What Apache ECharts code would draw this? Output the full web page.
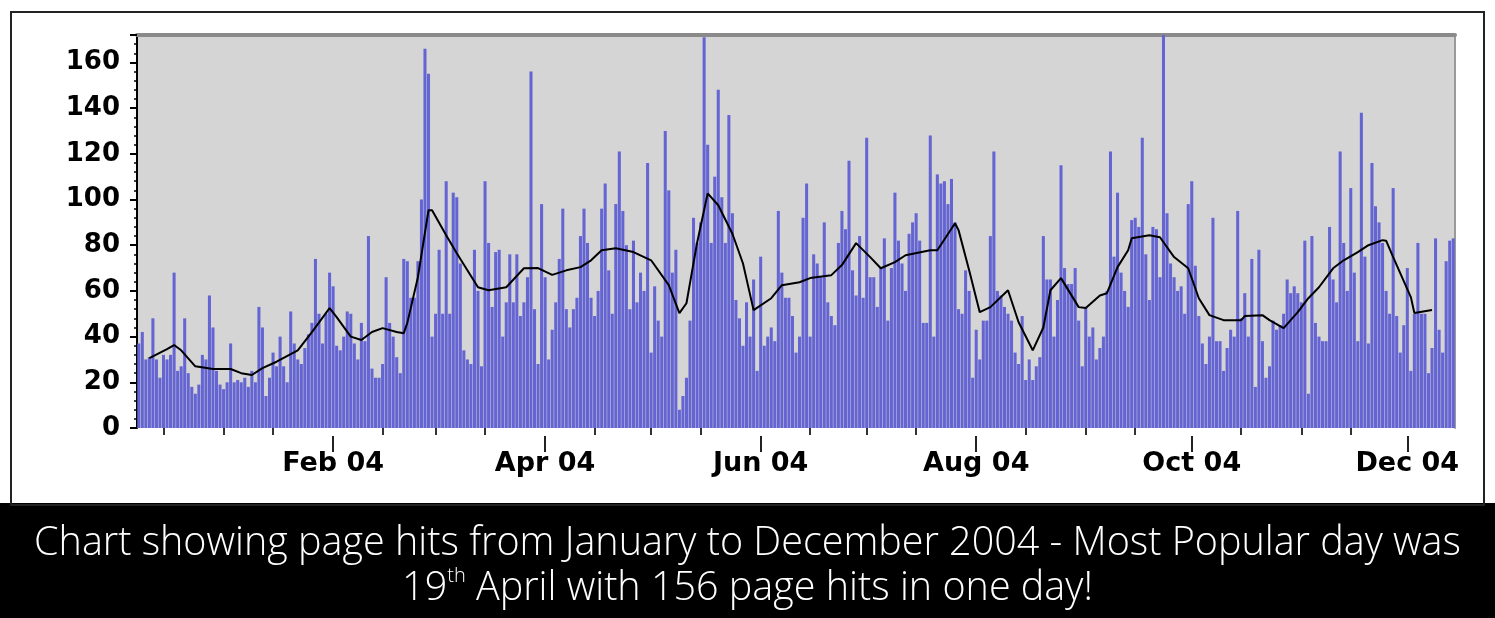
<!DOCTYPE html>
<html>
<head>
<meta charset="utf-8">
<script src="https://cdn.jsdelivr.net/npm/echarts@6.0.0/dist/echarts.min.js"></script>
<style>
html,body{margin:0;padding:0;background:#fff;}
#chart{width:1495px;height:618px;}
</style>
</head>
<body>
<div id="chart"></div>
<script>
// ---- data ----
const startDate = '2003-12-08';           // first day shown on the chart
const hits = [
  37,42,30,31,48,30,22,32,30,32,
  68,25,27,48,24,18,15,19,32,30,
  58,44,25,19,17,20,37,20,21,20,
  22,18,25,20,53,44,14,22,33,27,
  40,27,20,51,37,30,28,35,41,46,
  74,50,37,50,68,62,36,34,40,51,
  50,37,30,46,38,84,26,22,22,28,
  66,46,40,31,24,74,73,57,57,73,
  100,166,155,40,50,78,50,108,50,103,
  101,72,34,30,28,78,60,27,108,81,
  53,77,78,40,55,76,55,76,49,55,
  66,156,52,28,98,66,30,43,55,74,
  96,52,44,52,57,84,96,81,57,49,
  60,96,107,69,50,98,121,95,80,52,
  82,55,68,60,116,33,62,47,40,130,
  104,68,78,8,14,22,47,92,81,90,
  171,124,81,110,148,101,81,137,94,56,
  48,36,55,40,65,25,75,36,40,44,
  38,95,68,57,57,49,33,40,92,107,
  40,76,72,66,90,55,49,45,81,95,
  87,117,69,58,84,57,127,66,66,53,
  70,83,47,70,103,82,72,60,85,90,
  94,82,46,46,128,40,111,107,108,98,
  109,90,52,50,69,60,22,43,30,47,
  47,84,121,60,58,53,50,47,33,28,
  49,21,30,21,27,31,84,65,65,40,
  56,115,70,63,63,70,47,27,53,40,
  44,30,35,40,60,121,75,103,68,60,
  53,91,92,88,127,76,56,88,87,66,
  172,94,72,66,60,62,50,98,108,71,
  49,37,28,40,92,38,38,25,35,43,
  40,95,48,59,40,74,18,78,38,22,
  27,47,43,45,50,65,59,62,59,55,
  82,15,84,46,40,38,38,88,65,55,
  121,81,60,105,68,38,138,75,37,116,
  97,90,81,60,50,105,49,33,45,70,
  25,50,81,50,50,24,35,83,43,33,
  73,82,83
];
const maDates = [
  '2003-12-11','2003-12-16','2003-12-18','2003-12-20','2003-12-24','2003-12-29',
  '2004-01-03','2004-01-06','2004-01-09','2004-01-12','2004-01-16','2004-01-22','2004-01-26','2004-01-31',
  '2004-02-02','2004-02-06','2004-02-09','2004-02-12','2004-02-15','2004-02-19','2004-02-21','2004-02-22','2004-02-25','2004-02-28','2004-02-29',
  '2004-03-04','2004-03-07','2004-03-13','2004-03-16','2004-03-21','2004-03-26','2004-03-30',
  '2004-04-03','2004-04-07','2004-04-11','2004-04-14','2004-04-17','2004-04-21','2004-04-26',
  '2004-05-01','2004-05-06','2004-05-09','2004-05-11','2004-05-14','2004-05-17','2004-05-20','2004-05-24','2004-05-27','2004-05-30',
  '2004-06-04','2004-06-07','2004-06-12','2004-06-15','2004-06-21','2004-06-24','2004-06-28',
  '2004-07-02','2004-07-05','2004-07-09','2004-07-12','2004-07-19','2004-07-21','2004-07-26','2004-07-27','2004-07-30',
  '2004-08-02','2004-08-05','2004-08-10','2004-08-13','2004-08-17','2004-08-20','2004-08-22','2004-08-25','2004-08-30',
  '2004-09-01','2004-09-05','2004-09-07','2004-09-10','2004-09-13','2004-09-14','2004-09-19','2004-09-22','2004-09-26','2004-09-30',
  '2004-10-03','2004-10-06','2004-10-10','2004-10-15','2004-10-16','2004-10-21','2004-10-23','2004-10-27','2004-10-31',
  '2004-11-03','2004-11-06','2004-11-10','2004-11-13','2004-11-17','2004-11-20','2004-11-24','2004-11-25','2004-11-27',
  '2004-12-02','2004-12-03','2004-12-08'
];
const maValues = [
  30.6,34.5,36.3,34,27,25.8,
  25.8,24,23.2,26.2,29,34,42,52.5,
  48.5,40,38.5,42,43.7,42,41.5,46,66,95.3,95.3,
  84.4,76.5,61.6,60.3,61.6,69.9,70,
  67,69,70.4,73.4,77.8,78.7,77,
  73.4,62.5,50.3,54.6,81,102.7,97.5,85,72,51.6,
  56.8,62.5,63.8,65.6,66.9,71.3,80.9,
  74.8,69.9,72.6,75.6,77.8,77.8,89.6,86.6,69,
  50.7,52.9,60.3,46.3,34,44,60.3,65.6,52.9,
  52.5,58,59,70.4,77.8,83,84.4,83.5,74.8,69.9,
  56.8,49.4,47.2,47.2,49,49.4,47.2,43.7,50.7,
  56.8,61.6,69.9,73.4,77,80,82.2,82,74.8,
  57.3,50.3,51.6
];
const labelMonths = ['02','04','06','08','10','12'];   // months whose 1st day is labelled
const monthNames = ['Jan','Feb','Mar','Apr','May','Jun','Jul','Aug','Sep','Oct','Nov','Dec'];
const yTicks = [0,20,40,60,80,100,120,140,160];
const captionLine1 = 'Chart showing page hits from January to December 2004 - Most Popular day was';
const captionDay = '19';
const captionSup = 'th';
const captionRest = ' April with 156 page hits in one day!';

// ---- build categories ----
const t0 = Date.parse(startDate + 'T00:00:00Z');
const days = hits.map((_, i) => new Date(t0 + i * 86400000).toISOString().slice(0, 10));
const isLabelDay = d => d.slice(8) === '01' && labelMonths.indexOf(d.slice(5, 7)) >= 0;
const isHalfMonth = d => d.slice(8) === '01' || d.slice(8) === '15';
const maData = maDates.map((d, i) => [d, maValues[i]]);

const chart = echarts.init(document.getElementById('chart'), null, {renderer: 'canvas'});
const labelFont = {fontFamily: 'DejaVu Sans', fontWeight: 'bold', color: '#000'};

chart.setOption({
  animation: false,
  backgroundColor: '#fff',
  grid: {left: 137, right: 40, top: 35, bottom: 190, show: true, backgroundColor: '#d5d5d5', borderWidth: 0},
  xAxis: [
    {type: 'category', data: days, boundaryGap: true,
     axisLine: {show: false}, axisTick: {show: false}, axisLabel: {show: false}, splitLine: {show: false}},
    {type: 'category', data: days, boundaryGap: true, position: 'bottom', offset: 8,
     axisLine: {show: false},
     axisTick: {show: true, alignWithLabel: true, length: 7, lineStyle: {color: '#333', width: 2},
                interval: (i, v) => isHalfMonth(v) && !isLabelDay(v)},
     axisLabel: Object.assign({show: true, fontSize: 27, margin: 14,
                interval: (i, v) => isLabelDay(v),
                formatter: v => monthNames[+v.slice(5, 7) - 1] + ' ' + v.slice(2, 4)}, labelFont)},
    {type: 'category', data: days, boundaryGap: true, position: 'bottom', offset: 8,
     axisLine: {show: false},
     axisTick: {show: true, alignWithLabel: true, length: 16, lineStyle: {color: '#222', width: 2},
                interval: (i, v) => isLabelDay(v)},
     axisLabel: {show: false}},
    {type: 'category', data: days, position: 'top',
     axisLine: {show: true, lineStyle: {color: '#8a8a8a', width: 4}},
     axisTick: {show: false}, axisLabel: {show: false}}
  ],
  yAxis: [
    {type: 'value', min: 0, max: 172, interval: 20, position: 'left',
     axisLine: {show: true, lineStyle: {color: '#000', width: 2}},
     axisTick: {show: true, length: 7, lineStyle: {color: '#000', width: 2}},
     minorTick: {show: true, splitNumber: 5, length: 3, lineStyle: {color: '#000', width: 1.5}},
     splitLine: {show: false},
     axisLabel: Object.assign({fontSize: 26, margin: 17,
       formatter: v => (yTicks.indexOf(v) >= 0 ? String(v) : '')}, labelFont)},
    {type: 'value', min: 0, max: 172, position: 'right',
     axisLine: {show: true, lineStyle: {color: '#9a9a9a', width: 2}},
     axisTick: {show: false}, axisLabel: {show: false}, splitLine: {show: false}}
  ],
  series: [
    {type: 'bar', name: 'Page hits', data: hits, xAxisIndex: 0, yAxisIndex: 0,
     barCategoryGap: '14%', itemStyle: {color: '#6464d2'}, clip: true, z: 2},
    {type: 'line', name: 'Average', data: maData, xAxisIndex: 0, yAxisIndex: 0,
     showSymbol: false, symbol: 'none', lineStyle: {color: '#000', width: 2}, z: 5}
  ],
  title: {
    text: '{a|' + captionLine1 + '}\n{a|' + captionDay + '}{s|' + captionSup + '}{a|' + captionRest + '}',
    left: 'center', top: 516,
    textStyle: {
      color: '#fff',
      rich: {
        a: {color: '#fff', fontFamily: 'Open Sans', fontWeight: 300, fontSize: 39.5, lineHeight: 45},
        s: {color: '#fff', fontFamily: 'Open Sans', fontWeight: 300, fontSize: 20, lineHeight: 26, verticalAlign: 'top'}
      }
    }
  },
  graphic: [
    {type: 'rect', shape: {x: 0, y: 503, width: 1495, height: 115}, style: {fill: '#000'}, z: 0},
    {type: 'rect', shape: {x: 11, y: 12, width: 1473, height: 493}, style: {fill: 'none', stroke: '#222', lineWidth: 2}, z: 0}
  ]
});
</script>
</body>
</html>
